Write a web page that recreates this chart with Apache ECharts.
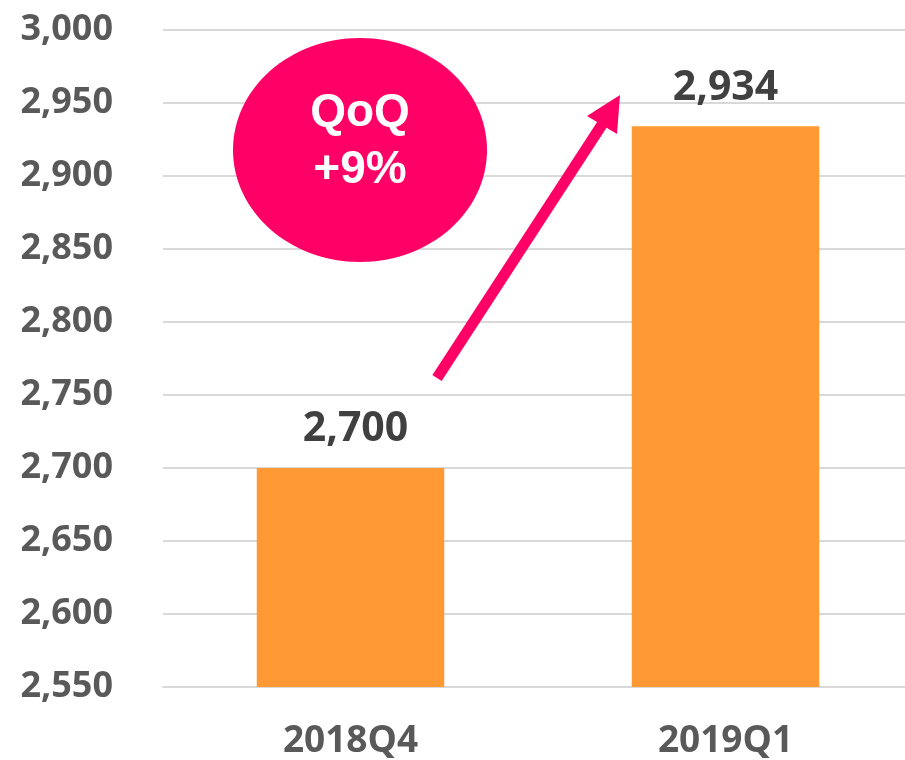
<!DOCTYPE html>
<html>
<head>
<meta charset="utf-8">
<script src="https://cdn.jsdelivr.net/npm/echarts@6/dist/echarts.min.js"></script>
<style>
  html, body { margin: 0; padding: 0; background: #fff; }
  #chart { width: 905px; height: 760px; }
</style>
</head>
<body>
<div id="chart"></div>
<script>
const categories = ['2018Q4', '2019Q1']
const values = [2700, 2934]
const yMin = 2550
const yMax = 3000
const yStep = 50
const badgeLines = ['QoQ', '+9%']

const fmt = v => Number(v).toLocaleString('en-US')
const pink = '#FF0066'

// first label sits a little right of its bar in the original
const barData = values.map((v, i) => i === 0 ? { value: v, label: { offset: [5, 0] } } : v)

const chart = echarts.init(document.getElementById('chart'))
chart.setOption({
  animation: false,
  grid: { top: 30, bottom: 73, left: 163, right: -8, outerBoundsMode: 'none' },
  xAxis: {
    type: 'category',
    data: categories,
    axisLine: { lineStyle: { color: '#D9D9D9', width: 2 } },
    axisTick: { show: false },
    axisLabel: {
      color: '#595959',
      fontFamily: 'Open Sans',
      fontWeight: 'bold',
      fontSize: 37,
      margin: 36,
    },
  },
  yAxis: {
    type: 'value',
    min: yMin,
    max: yMax,
    interval: yStep,
    axisLine: { show: false },
    axisTick: { show: false },
    splitLine: { lineStyle: { color: '#D9D9D9', width: 2 } },
    axisLabel: {
      color: '#595959',
      fontFamily: 'Open Sans',
      fontWeight: 'bold',
      fontSize: 36,
      margin: 50,
      formatter: fmt,
    },
  },
  series: [{
    type: 'bar',
    data: barData,
    barWidth: '50%',
    itemStyle: { color: '#FF9933' },
    label: {
      show: true,
      position: 'top',
      distance: 18,
      color: '#404040',
      fontFamily: 'Open Sans',
      fontWeight: 'bold',
      fontSize: 41,
      formatter: p => fmt(p.value),
    },
  }],
  graphic: [
    {
      type: 'ellipse',
      shape: { cx: 360, cy: 150, rx: 127, ry: 112 },
      style: { fill: pink },
      z: 10,
    },
    {
      type: 'text',
      x: 360,
      y: 142,
      z: 11,
      style: {
        text: badgeLines.join('\n'),
        fill: '#fff',
        font: 'bold 46px "Liberation Sans", Arial, sans-serif',
        lineHeight: 57,
        align: 'center',
        verticalAlign: 'middle',
      },
    },
    {
      type: 'line',
      shape: { x1: 437, y1: 378, x2: 605, y2: 120 },
      style: { stroke: pink, lineWidth: 11 },
      z: 10,
    },
    {
      type: 'polygon',
      shape: { points: [[620, 95], [587, 116], [617, 134]] },
      style: { fill: pink },
      z: 10,
    },
  ],
})
</script>
</body>
</html>
